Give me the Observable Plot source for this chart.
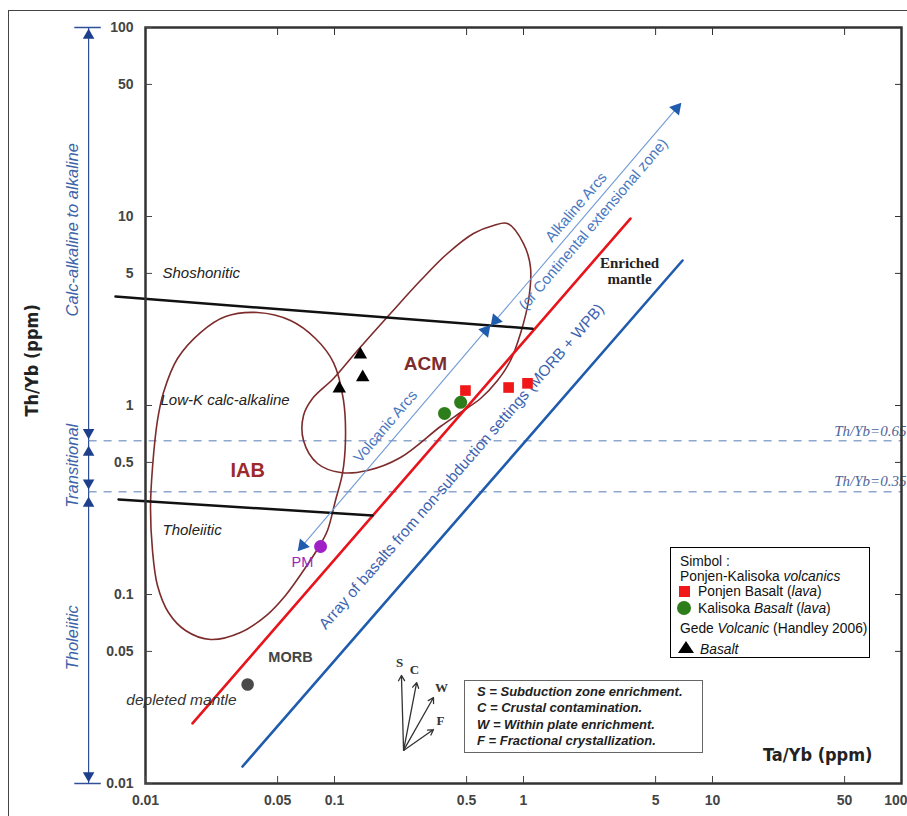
<!DOCTYPE html>
<html><head><meta charset="utf-8">
<script src="https://cdn.jsdelivr.net/npm/d3@7"></script>
<script src="https://cdn.jsdelivr.net/npm/@observablehq/plot@0.6"></script>
<style>
html,body{margin:0;padding:0;background:#fff;overflow:hidden;}
#wrap{position:relative;width:907px;height:816px;overflow:hidden;font-family:"Liberation Sans",Arial,sans-serif;}
#chart svg{display:block;}
#chart g[aria-label="x-axis tick label"], #chart g[aria-label="y-axis tick label"]{font-weight:bold;font-size:14px;font-family:"Liberation Sans",Arial,sans-serif;}
#border{position:absolute;left:8px;top:10px;width:1000px;height:1000px;border-left:1.5px solid #444;border-top:1.5px solid #444;pointer-events:none;}
#key{position:absolute;left:464px;top:680px;width:239px;height:73px;border:1.5px solid #666;background:#fff;box-sizing:border-box;padding:3px 0 0 12px;font:italic bold 13px "Liberation Sans",Arial,sans-serif;color:#222;line-height:16.3px;white-space:nowrap;}
#legend{position:absolute;left:670px;top:547px;width:200px;height:111px;border:1px solid #000;background:#fff;box-sizing:border-box;font:13.8px "Liberation Sans",Arial,sans-serif;color:#111;}
#legend .row{position:absolute;white-space:nowrap;line-height:14px;}
#legend .sq{position:absolute;left:8px;top:38px;width:11px;height:11px;background:#f01818;}
#legend .ci{position:absolute;left:6px;top:53px;width:14px;height:14px;border-radius:50%;background:#2d7d1a;}
#legend .tr{position:absolute;left:7px;top:93px;width:0;height:0;border-left:8px solid transparent;border-right:8px solid transparent;border-bottom:12px solid #000;}
</style></head>
<body>
<div id="wrap">
  <div id="chart"></div>
  <div id="border"></div>
  <div id="key">S = Subduction zone enrichment.<br>C = Crustal contamination.<br>W = Within plate enrichment.<br>F = Fractional crystallization.</div>
  <div id="legend">
    <div class="row" style="left:9px;top:7px">Simbol :</div>
    <div class="row" style="left:9px;top:22px">Ponjen-Kalisoka <i>volcanics</i></div>
    <div class="sq"></div>
    <div class="row" style="left:27px;top:37px">Ponjen Basalt (<i>lava</i>)</div>
    <div class="ci"></div>
    <div class="row" style="left:27px;top:54px">Kalisoka <i>Basalt</i> (<i>lava</i>)</div>
    <div class="row" style="left:9px;top:74px">Gede <i>Volcanic</i> (Handley 2006)</div>
    <div class="tr"></div>
    <div class="row" style="left:29px;top:95px"><i>Basalt</i></div>
  </div>
</div>
<script>
// ---- tick values ----
const xTicks = [0.01, 0.05, 0.1, 0.5, 1, 5, 10, 50, 100];
const yTicks = [0.01, 0.05, 0.1, 0.5, 1, 5, 10, 50, 100];

// ---- sample data ----
const ponjenTaYb = [0.493, 0.834, 1.05];
const ponjenThYb = [1.20, 1.245, 1.31];
const kalisokaTaYb = [0.382, 0.465];
const kalisokaThYb = [0.908, 1.04];
const gedeTaYb = [0.137, 0.141, 0.106];
const gedeThYb = [1.86, 1.41, 1.23];

// ---- reference points ----
const pmTaYb = [0.0844], pmThYb = [0.1795];
const morbTaYb = [0.0347], morbThYb = [0.0334];

// ---- field boundaries (Ta/Yb, Th/Yb) ----
const shoshoniticTaYb = [0.00694, 1.117];
const shoshoniticThYb = [3.77, 2.55];
const tholeiiticTaYb = [0.0072, 0.159];
const tholeiiticThYb = [0.318, 0.262];
const mantleArrayUpperTaYb = [0.01773, 3.68];
const mantleArrayUpperThYb = [0.0208, 9.75];
const mantleArrayLowerTaYb = [0.0326, 6.94];
const mantleArrayLowerThYb = [0.0123, 5.85];
const thresholdThYb = [0.65, 0.35];

// ---- IAB field outline ----
const iabTaYb = [0.03914,0.0585,0.07932,0.09879,0.1116,0.1143,0.1102,0.1012,0.0918,0.0823,0.06855,0.05502,0.0442,0.03182,0.02208,0.01628,0.01323,0.01157,0.01089,0.01063,0.01089,0.01157,0.01245,0.01477,0.01954,0.02651];
const iabThYb = [3.105,2.817,2.262,1.688,1.063,0.653,0.4368,0.3144,0.2182,0.1773,0.134,0.0988,0.07836,0.06295,0.05779,0.06451,0.08033,0.1116,0.1709,0.2886,0.4699,0.833,1.172,1.773,2.433,2.957];

// ---- ACM field outline ----
const acmTaYb = [0.6941,0.8227,1.0,1.089,1.063,0.964,0.8536,0.7286,0.5924,0.4642,0.3638,0.2235,0.1495,0.1076,0.0813,0.06855,0.06855,0.0765,0.0988,0.1323,0.1978,0.2851,0.3961,0.5436];
const acmThYb = [8.964,9.183,7.195,5.373,3.594,2.404,1.73,1.356,1.089,0.918,0.7743,0.5307,0.453,0.442,0.4933,0.653,0.8854,1.089,1.389,1.954,3.068,4.584,6.372,8.131];

// ---- arc trend arrows ----
const arcStartTaYb = [0.0677, 0.711];
const arcStartThYb = [0.1816, 2.82];
const arcEndTaYb = [0.630, 6.45];
const arcEndThYb = [2.49, 37.3];

// ---- magmatic series range bar (left) ----
const seriesBarTaYb = 0.005;
const seriesBreaks = [100, 0.65, 0.35, 0.01];
const seriesCapTaYb = [0.0042, 0.0058];
const seriesHeadThYb = [90.7, 0.72, 0.564, 0.39, 0.303, 0.011];
const seriesHeadDir = ["up", "down", "up", "down", "up", "down"];
const seriesNames = ["Calc-alkaline to alkaline", "Transitional", "Tholeiitic"];
const seriesLabelTaYb = 0.00411;
const seriesLabelThYb = [8.5, 0.48, 0.059];

// ---- vector diagram ----
const vecOriginTaYb = 0.232, vecOriginThYb = 0.01496;
const vecNames = ["S", "C", "W", "F"];
const vecTipTaYb = [0.226, 0.272, 0.334, 0.334];
const vecTipThYb = [0.0373, 0.0342, 0.0285, 0.0193];
const vecLabelTaYb = [0.221, 0.265, 0.368, 0.364];
const vecLabelThYb = [0.0437, 0.0401, 0.0322, 0.0215];

// ---- field labels ----
const fieldLabels = [
  {t: "Shoshonitic", x: 0.0123, y: 5.0},
  {t: "Low-K calc-alkaline", x: 0.0120, y: 1.063},
  {t: "Tholeiitic", x: 0.0123, y: 0.218}
];

const zip = (xs, ys) => xs.map((x, i) => ({x, y: ys[i]}));
const ponjen = zip(ponjenTaYb, ponjenThYb);
const kalisoka = zip(kalisokaTaYb, kalisokaThYb);
const gede = zip(gedeTaYb, gedeThYb);
const iab = zip(iabTaYb, iabThYb);
const acm = zip(acmTaYb, acmThYb);
const arcs = arcStartTaYb.map((x1, i) => ({x1, y1: arcStartThYb[i], x2: arcEndTaYb[i], y2: arcEndThYb[i]}));
const ang = s => Math.atan2(Math.log10(s.x2 / s.x1), Math.log10(s.y2 / s.y1)) * 180 / Math.PI;
const arcHeads = arcs.flatMap(s => [{x: s.x2, y: s.y2, r: ang(s)}, {x: s.x1, y: s.y1, r: ang(s) + 180}]);
const seriesSegs = seriesBreaks.slice(0, -1).map((y1, i) => ({y1, y2: seriesBreaks[i + 1]}));
const seriesCaps = [seriesBreaks[0], seriesBreaks[seriesBreaks.length - 1]].map(y => ({y, x1: seriesCapTaYb[0], x2: seriesCapTaYb[1]}));
const seriesHeads = seriesHeadThYb.map((y, i) => ({y, r: seriesHeadDir[i] === "up" ? 0 : 180}));
const seriesLabels = seriesNames.map((t, i) => ({t, y: seriesLabelThYb[i]}));
const vectors = vecNames.map((n, i) => ({n, x2: vecTipTaYb[i], y2: vecTipThYb[i], lx: vecLabelTaYb[i], ly: vecLabelThYb[i]}));
const thresholds = thresholdThYb.map(y => ({y, x1: seriesBarTaYb, x2: xTicks[xTicks.length - 1]}));
const xTickInner = xTicks.slice(0, -1);
const xTickLast = xTicks.slice(-1);

const blueText = "#3d63a8";
const arcText = "#4a78c0";
const sans = '"Liberation Sans", Arial, sans-serif';
const narrow = '"Liberation Sans Narrow", "DejaVu Sans Condensed", "Liberation Sans", sans-serif';
const tickFill = "#444";

const chart = Plot.plot({
  width: 907, height: 816,
  marginLeft: 145, marginRight: 6, marginTop: 27, marginBottom: 33,
  x: {type: "log", domain: [0.01, 100], axis: null},
  y: {type: "log", domain: [0.01, 100], axis: null},
  style: {fontFamily: sans, background: "transparent", overflow: "visible"},
  marks: [
    // threshold dashed lines
    Plot.link(thresholds, {x1: "x1", x2: "x2", y1: "y", y2: "y", stroke: "#8ea7cd", strokeWidth: 1.5, strokeDasharray: "8,7"}),
    Plot.text(thresholds, {x: "x2", y: "y", text: d => "Th/Yb=" + d.y, textAnchor: "end", dx: 5, dy: -10, fontSize: 15, fontStyle: "italic", fontFamily: '"Liberation Serif", serif', fill: "#4d6699"}),
    // series range bar
    Plot.link(seriesSegs, {x1: seriesBarTaYb, x2: seriesBarTaYb, y1: "y1", y2: "y2", stroke: "#2f4f98", strokeWidth: 1.2}),
    Plot.link(seriesCaps, {x1: "x1", x2: "x2", y1: "y", y2: "y", stroke: "#2f4f98", strokeWidth: 1.5}),
    Plot.dot(seriesHeads, {x: seriesBarTaYb, y: "y", symbol: "triangle", r: 4.3, fill: "#1d3f8c", rotate: "r"}),
    Plot.text(seriesLabels, {x: seriesLabelTaYb, y: "y", text: "t", rotate: -90, fontSize: 16.5, fontStyle: "italic", fill: blueText}),
    // fields
    Plot.line(iab, {x: "x", y: "y", curve: "catmull-rom-closed", stroke: "#7d2b2b", strokeWidth: 1.6}),
    Plot.line(acm, {x: "x", y: "y", curve: "catmull-rom-closed", stroke: "#7d2b2b", strokeWidth: 1.6}),
    // mantle array
    Plot.line(zip(mantleArrayUpperTaYb, mantleArrayUpperThYb), {x: "x", y: "y", stroke: "#e8141c", strokeWidth: 2.6}),
    Plot.line(zip(mantleArrayLowerTaYb, mantleArrayLowerThYb), {x: "x", y: "y", stroke: "#1f5cae", strokeWidth: 2.6}),
    // boundaries
    Plot.line(zip(shoshoniticTaYb, shoshoniticThYb), {x: "x", y: "y", stroke: "#111", strokeWidth: 2.5}),
    Plot.line(zip(tholeiiticTaYb, tholeiiticThYb), {x: "x", y: "y", stroke: "#111", strokeWidth: 2.5}),
    // arc trends
    Plot.link(arcs, {x1: "x1", y1: "y1", x2: "x2", y2: "y2", stroke: "#6e9ad6", strokeWidth: 1.1}),
    Plot.dot(arcHeads, {x: "x", y: "y", symbol: "triangle", r: 4.8, fill: "#1f5cae", rotate: "r"}),
    Plot.text(["Volcanic Arcs"], {x: 0.186, y: 0.775, rotate: -49.5, fontSize: 15, fill: arcText}),
    Plot.text(["Alkaline Arcs"], {x: 1.90, y: 11.2, rotate: -49.5, fontSize: 15, fill: arcText}),
    Plot.text(["(or Continental extensional zone)"], {x: 2.34, y: 9.1, rotate: -49.5, fontSize: 15, fill: arcText}),
    Plot.text(["Array of basalts from non-subduction settings (MORB + WPB)"], {x: 0.470, y: 0.4756, rotate: -49, fontSize: 15.5, fill: "#3d63b0"}),
    Plot.text(["Enriched\nmantle"], {x: 3.64, y: 5.18, fontSize: 15, fontWeight: "bold", fontFamily: '"Liberation Serif", serif', fill: "#222", lineHeight: 1.07}),
    // field labels
    Plot.text(fieldLabels, {x: "x", y: "y", text: "t", textAnchor: "start", fontSize: 15, fontStyle: "italic", fill: "#222"}),
    Plot.text(["IAB"], {x: 0.0347, y: 0.453, fontSize: 20, fontWeight: "bold", fill: "#9c2a2c"}),
    Plot.text(["ACM"], {x: 0.303, y: 1.667, fontSize: 19, fontWeight: "bold", fill: "#7d2b2b"}),
    Plot.text(["MORB"], {x: 0.0585, y: 0.0464, fontSize: 14.5, fontWeight: "bold", fill: "#444"}),
    Plot.text(["depleted mantle"], {x: 0.0155, y: 0.0278, fontSize: 15.5, fontStyle: "italic", fill: "#333"}),
    Plot.text(["PM"], {x: 0.0677, y: 0.1477, fontSize: 14.5, fill: "#9a28b8"}),
    // vectors
    Plot.arrow(vectors, {x1: vecOriginTaYb, y1: vecOriginThYb, x2: "x2", y2: "y2", stroke: "#333", strokeWidth: 1.3, headLength: 7}),
    Plot.text(vectors, {x: "lx", y: "ly", text: "n", fontSize: 13, fontWeight: "bold", fontFamily: '"Liberation Serif", serif', fill: "#333"}),
    // reference points
    Plot.dot(zip(pmTaYb, pmThYb), {x: "x", y: "y", r: 6.5, fill: "#a020c8"}),
    Plot.dot(zip(morbTaYb, morbThYb), {x: "x", y: "y", r: 6.3, fill: "#4a4a4a"}),
    // samples
    Plot.dot(gede, {x: "x", y: "y", symbol: "triangle", r: 5, fill: "#000"}),
    Plot.dot(kalisoka, {x: "x", y: "y", r: 6.5, fill: "#2d7d1a"}),
    Plot.dot(ponjen, {x: "x", y: "y", symbol: "square", r: 6, fill: "#f01818"}),
    // frame & axes
    Plot.frame({stroke: "#333", strokeWidth: 2.5}),
    Plot.axisX(xTickInner, {anchor: "bottom", tickSpacing: 10, tickSize: -7, tickPadding: 19, tickFormat: d => String(d), label: null, fontSize: 14, fontWeight: "bold", color: tickFill}),
    Plot.axisX(xTickLast, {anchor: "bottom", tickSpacing: 10, tickSize: -7, tickPadding: 19, tickFormat: d => String(d), label: null, fontSize: 14, fontWeight: "bold", color: tickFill, textAnchor: "end", dx: 6}),
    Plot.axisX(xTicks, {anchor: "top", tickSpacing: 10, tickSize: -7, tickFormat: () => "", label: null, color: "#333"}),
    Plot.axisY(yTicks, {anchor: "left", tickSpacing: 10, tickSize: -7, tickPadding: 19, tickFormat: d => String(d), label: null, fontSize: 14, fontWeight: "bold", color: tickFill}),
    Plot.axisY(yTicks, {anchor: "right", tickSpacing: 10, tickSize: -7, tickFormat: () => "", label: null, color: "#333"}),
    Plot.text(["Ta/Yb (ppm)"], {frameAnchor: "bottom-right", dx: -29, dy: -23, textAnchor: "end", fontSize: 18, fontWeight: "bold", fontFamily: narrow, fill: "#222"}),
    Plot.text(["Th/Yb (ppm)"], {frameAnchor: "left", dx: -113, dy: 11, rotate: -90, fontSize: 18, fontWeight: "bold", fontFamily: narrow, fill: "#222"})
  ]
});
document.getElementById("chart").appendChild(chart);
</script>
</body></html>
